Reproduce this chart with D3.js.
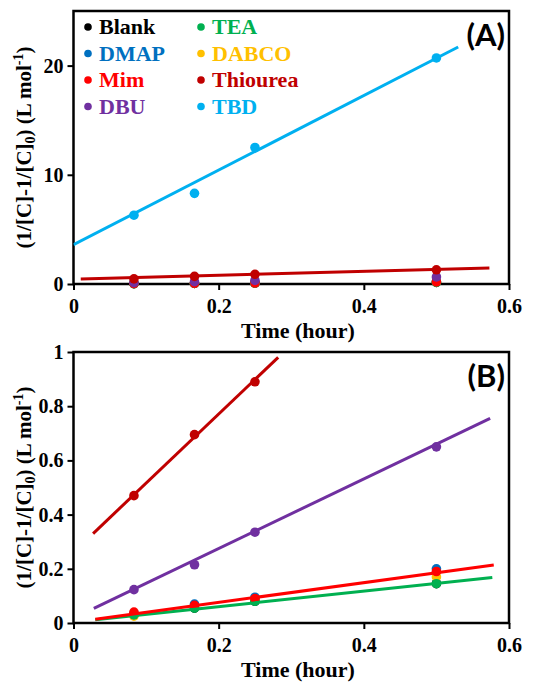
<!DOCTYPE html>
<html>
<head>
<meta charset="utf-8">
<script src="https://cdn.jsdelivr.net/npm/d3@7"></script>
<style>
  body { margin: 0; background: #fff; }
</style>
</head>
<body>
<div id="chart"></div>
<script>
// Sampling times (hour)
const times = [0.0833, 0.1667, 0.25, 0.5];

// Series names, colours and values
const seriesNames = ['Blank', 'DMAP', 'Mim', 'DBU', 'TEA', 'DABCO', 'Thiourea', 'TBD'];
const seriesColors = ['#000000', '#0070C0', '#FF0000', '#7030A0', '#00B050', '#FFC000', '#C00000', '#00B0F0'];
const blankValues = [0.03, 0.055, 0.08, 0.145];
const dmapValues = [0.035, 0.07, 0.095, 0.2];
const mimValues = [0.04, 0.065, 0.09, 0.19];
const dbuValues = [0.123, 0.215, 0.335, 0.65];
const teaValues = [0.03, 0.055, 0.08, 0.145];
const dabcoValues = [0.025, 0.06, 0.085, 0.17];
const thioureaValues = [0.47, 0.695, 0.89, 1.3];
const tbdValues = [6.3, 8.3, 12.5, 20.7];
const allValues = [blankValues, dmapValues, mimValues, dbuValues, teaValues, dabcoValues, thioureaValues, tbdValues];

// Order in which the points are drawn (later ones on top)
const drawOrder = ['Blank', 'DABCO', 'DMAP', 'TEA', 'Mim', 'DBU', 'Thiourea', 'TBD'];

// Fitted lines: [series, t start, t end, y start, y end]
const fitsA = [
  ['TBD', 0, 0.53, 3.6, 21.7],
  ['Thiourea', 0.01, 0.573, 0.45, 1.47]
];
const fitsB = [
  ['Thiourea', 0.027, 0.282, 0.33, 0.98],
  ['DBU', 0.028, 0.574, 0.054, 0.755],
  ['TEA', 0.03, 0.577, 0.012, 0.168],
  ['Mim', 0.03, 0.579, 0.014, 0.214]
];

const xTicks = [0, 0.2, 0.4, 0.6];
const yTicksA = [0, 10, 20];
const yTicksB = [0, 0.2, 0.4, 0.6, 0.8, 1];

const width = 538;
const height = 683;
const serif = 'Liberation Serif';
const colorOf = name => seriesColors[seriesNames.indexOf(name)];
const valuesOf = name => allValues[seriesNames.indexOf(name)];

const svg = d3.select('#chart')
  .append('svg')
    .attr('width', width)
    .attr('height', height)
    .attr('font-family', serif)
    .attr('font-weight', 700);

const x = d3.scaleLinear().domain([0, 0.6]).range([73.5, 509]);

const styleTicks = a => {
  a.attr('font-family', serif).attr('font-size', 20).attr('font-weight', 700);
  a.select('.domain').remove();
  a.selectAll('line').attr('stroke-width', 2);
  a.selectAll('text')
    .attr('font-family', serif)
    .attr('font-weight', 700)
    .attr('font-size', 20)
    .attr('fill', '#000');
};

const drawPanel = (opts) => {
  const y = d3.scaleLinear().domain(opts.yDomain).range([opts.bottom, opts.top]);
  const g = svg.append('g');

  // axes
  g.append('g')
    .attr('transform', `translate(0,${opts.bottom})`)
    .call(d3.axisBottom(x).tickValues(xTicks).tickSize(6).tickSizeOuter(0).tickPadding(9).tickFormat(d => d === 0 ? '0' : d3.format('.1f')(d)))
    .call(styleTicks);

  g.append('g')
    .attr('transform', `translate(${x(0)},0)`)
    .call(d3.axisLeft(y).tickValues(opts.yTicks).tickSize(6).tickSizeOuter(0).tickPadding(4).tickFormat(opts.yFormat))
    .call(styleTicks);

  // frame
  g.append('rect')
    .attr('x', x(0))
    .attr('y', opts.top)
    .attr('width', x(0.6) - x(0))
    .attr('height', opts.bottom - opts.top)
    .attr('fill', 'none')
    .attr('stroke', '#000')
    .attr('stroke-width', 2.5);

  // clip for lines and points
  const clipId = 'clip' + opts.id;
  svg.append('clipPath').attr('id', clipId)
    .append('rect')
      .attr('x', x(0))
      .attr('y', opts.top)
      .attr('width', x(0.6) - x(0))
      .attr('height', opts.bottom - opts.top + 6);

  const plot = g.append('g').attr('clip-path', `url(#${clipId})`);

  // points
  drawOrder.filter(n => opts.series.includes(n)).forEach(name => {
    plot.append('g')
      .attr('fill', colorOf(name))
      .selectAll('circle')
      .data(valuesOf(name).map((v, i) => [times[i], v]))
      .join('circle')
        .attr('cx', d => x(d[0]))
        .attr('cy', d => y(d[1]))
        .attr('r', 4.8);
  });

  // fitted lines
  plot.append('g')
    .selectAll('line')
    .data(opts.fits)
    .join('line')
      .attr('x1', d => x(d[1]))
      .attr('x2', d => x(d[2]))
      .attr('y1', d => y(d[3]))
      .attr('y2', d => y(d[4]))
      .attr('stroke', d => colorOf(d[0]))
      .attr('stroke-width', 3);

  // x label
  g.append('text')
    .attr('x', 298)
    .attr('y', opts.bottom + 54)
    .attr('text-anchor', 'middle')
    .attr('font-family', serif)
    .attr('font-weight', 700)
    .attr('font-size', 22)
    .text('Time (hour)');

  // y label
  const yl = g.append('text')
    .attr('transform', `translate(31,${(opts.top + opts.bottom) / 2}) rotate(-90)`)
    .attr('text-anchor', 'middle')
    .attr('font-family', serif)
    .attr('font-weight', 700)
    .attr('font-size', 21);
  yl.append('tspan').text('(1/[C]-1/[C]');
  yl.append('tspan').attr('font-size', 14).attr('dy', 4).text('0');
  yl.append('tspan').attr('dy', -4).text(') (L mol');
  yl.append('tspan').attr('font-size', 14).attr('dy', -8).text('-1');
  yl.append('tspan').attr('dy', 8).text(')');

  // panel tag
  g.append('text')
    .attr('x', 505)
    .attr('y', opts.top + 35)
    .attr('text-anchor', 'end')
    .attr('font-family', 'Lato')
    .attr('font-weight', 700)
    .attr('font-size', 31)
    .text(opts.tag);
};

drawPanel({
  id: 'A', top: 11, bottom: 284, yDomain: [0, 25], yTicks: yTicksA, yFormat: d3.format('d'),
  series: seriesNames, fits: fitsA, tag: '(A)'
});
drawPanel({
  id: 'B', top: 352, bottom: 623, yDomain: [0, 1], yTicks: yTicksB, yFormat: d => d === 0 || d === 1 ? String(d) : d3.format('.1f')(d),
  series: seriesNames.filter(n => n !== 'TBD'), fits: fitsB, tag: '(B)'
});

// legend (panel A)
const legend = svg.append('g')
  .selectAll('g')
  .data(seriesNames)
  .join('g')
    .attr('transform', (d, i) => `translate(${i < 4 ? 88 : 201},${27 + (i % 4) * 26.5})`);
legend.append('circle')
  .attr('r', 3.8)
  .attr('fill', d => colorOf(d));
legend.append('text')
  .attr('x', 11)
  .attr('y', 7)
  .attr('font-family', serif)
  .attr('font-weight', 700)
  .attr('font-size', 22)
  .attr('fill', d => colorOf(d))
  .text(d => d);
</script>
</body>
</html>
